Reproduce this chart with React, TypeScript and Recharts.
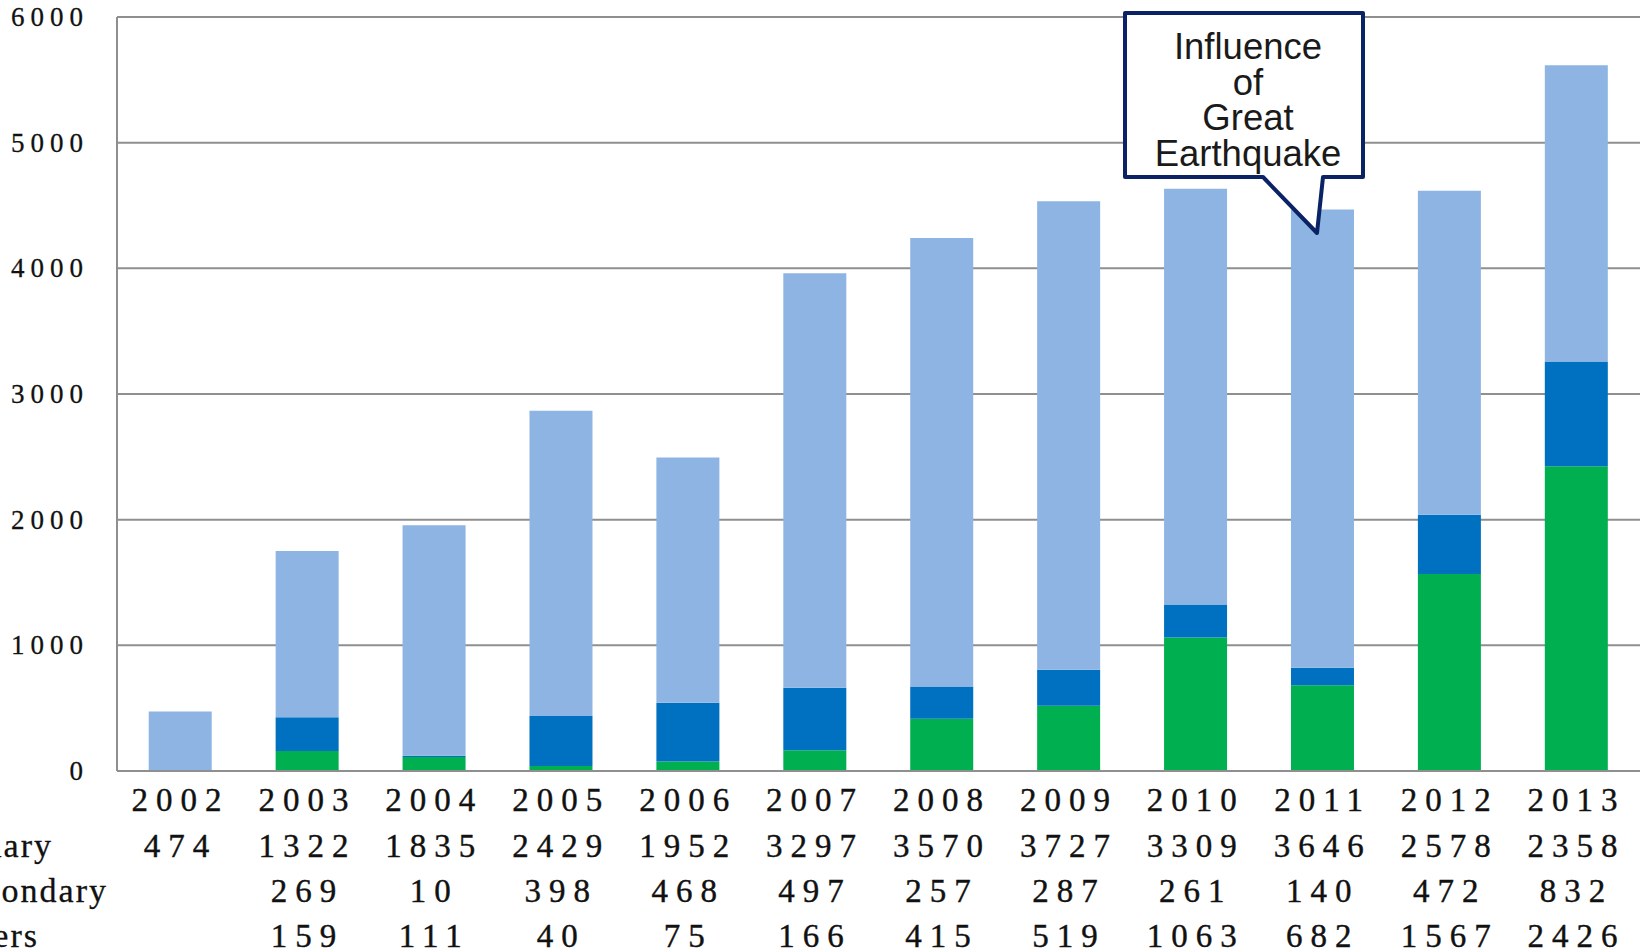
import { BarChart, Bar, XAxis, YAxis, CartesianGrid } from 'recharts'

const years = ['2002', '2003', '2004', '2005', '2006', '2007', '2008', '2009', '2010', '2011', '2012', '2013']
const primary = [474, 1322, 1835, 2429, 1952, 3297, 3570, 3727, 3309, 3646, 2578, 2358]
const secondary = [null, 269, 10, 398, 468, 497, 257, 287, 261, 140, 472, 832]
const others = [null, 159, 111, 40, 75, 166, 415, 519, 1063, 682, 1567, 2426]
const yTicks = [0, 1000, 2000, 3000, 4000, 5000, 6000]
const rowNames = ['Primary', 'Secondary', 'Others']
const calloutLines = ['Influence', 'of', 'Great', 'Earthquake']

const W = 1643
const H = 951
const SERIF = '"Liberation Serif", "Times New Roman", serif'
const GRID = '#8f8f8f'

const data = years.map((y, i) => ({
    year: y,
    primary: primary[i],
    secondary: secondary[i],
    others: others[i],
}))

// year + the three table rows under each bar
function TableTick(props: any) {
    const { x, y, index } = props
    const rows = [years[index], primary[index], secondary[index], others[index]]
    const offsets = [40, 86, 131, 176]
    return (
        <g>
            {rows.map((v, i) => (
                <text
                    key={i}
                    x={x}
                    y={y + offsets[i]}
                    textAnchor="middle"
                    fill="#111"
                    stroke="#111"
                    strokeWidth={0.4}
                    style={{ fontFamily: SERIF, fontSize: 33, letterSpacing: 8 }}
                >
                    {v == null ? '' : String(v)}
                </text>
            ))}
        </g>
    )
}

function YTick(props: any) {
    const { x, y, payload } = props
    return (
        <text
            x={x}
            y={y + 9}
            textAnchor="end"
            fill="#111"
            stroke="#111"
            strokeWidth={0.3}
            style={{ fontFamily: SERIF, fontSize: 27, letterSpacing: 6 }}
        >
            {payload.value}
        </text>
    )
}

export default function App() {
    return (
        <div style={{ position: 'absolute', left: 0, top: 0, width: W, height: H, background: '#fff' }}>
            <BarChart
                width={W}
                height={H}
                data={data}
                margin={{ top: 17, right: 3, left: 0, bottom: 0 }}
                barCategoryGap="25%"
            >
                <CartesianGrid vertical={false} stroke={GRID} strokeWidth={2} />
                <XAxis
                    dataKey="year"
                    height={180}
                    interval={0}
                    tickLine={false}
                    tickSize={0}
                    tickMargin={0}
                    axisLine={{ stroke: GRID, strokeWidth: 2 }}
                    tick={<TableTick />}
                />
                <YAxis
                    width={117}
                    domain={[0, 6000]}
                    ticks={yTicks}
                    interval={0}
                    tickLine={false}
                    tickMargin={22}
                    axisLine={{ stroke: GRID, strokeWidth: 2 }}
                    tick={<YTick />}
                />
                <Bar dataKey="others" stackId="a" fill="#00B050" isAnimationActive={false} />
                <Bar dataKey="secondary" stackId="a" fill="#0070C0" isAnimationActive={false} />
                <Bar dataKey="primary" stackId="a" fill="#8EB4E3" isAnimationActive={false} />
            </BarChart>

            {/* row labels, cut off by the left page edge */}
            <svg width={W} height={H} style={{ position: 'absolute', left: 0, top: 0, pointerEvents: 'none' }}>
                {rowNames.map((n, i) => (
                    <text
                        key={n}
                        x={[53, 108, 39][i]}
                        y={857 + i * 45}
                        textAnchor="end"
                        fill="#111"
                        stroke="#111"
                        strokeWidth={0.3}
                        style={{ fontFamily: SERIF, fontSize: 34, letterSpacing: 2 }}
                    >
                        {n}
                    </text>
                ))}
                {/* callout */}
                <path
                    d="M1125 13 L1363 13 L1363 177 L1323 177 L1317 233 L1263 177 L1125 177 Z"
                    fill="#fff"
                    stroke="#0B2265"
                    strokeWidth={4}
                    strokeLinejoin="round"
                />
                {calloutLines.map((t, i) => (
                    <text
                        key={t}
                        x={1248}
                        y={59 + i * 35.7}
                        textAnchor="middle"
                        fill="#1a1a1a"
                        style={{ fontFamily: '"Liberation Sans", Arial, sans-serif', fontSize: 36.5 }}
                    >
                        {t}
                    </text>
                ))}
            </svg>
        </div>
    )
}
